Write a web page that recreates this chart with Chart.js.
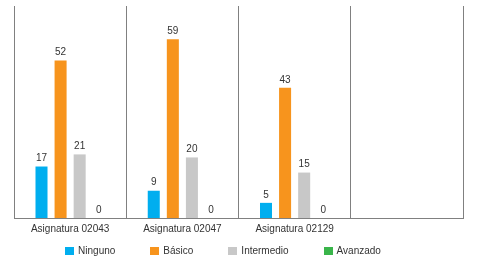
<!DOCTYPE html>
<html>
<head>
<meta charset="utf-8">
<script src="https://cdn.jsdelivr.net/npm/chart.js@4/dist/chart.umd.min.js"></script>
<style>
html,body{margin:0;padding:0;background:#fff;}
#wrap{width:478px;height:266px;position:relative;}
#legend{position:absolute;left:0;width:446px;top:244px;display:flex;justify-content:center;gap:35px;
  font:10px "Liberation Sans", Arial, sans-serif;color:#333;}
#legend .it{display:flex;align-items:center;white-space:nowrap;line-height:14px;}
#legend .sw{width:9px;height:8px;margin-right:4px;display:inline-block;}
</style>
</head>
<body>
<div id="wrap"><canvas id="c" width="478" height="266"></canvas><div id="legend"></div></div>
<script>
const categories = ["Asignatura 02043", "Asignatura 02047", "Asignatura 02129", ""];
const ninguno = [17, 9, 5, null];
const basico = [52, 59, 43, null];
const intermedio = [21, 20, 15, null];
const avanzado = [0, 0, 0, null];
const seriesNames = ["Ninguno", "Básico", "Intermedio", "Avanzado"];
const seriesColors = ["#00AEEF", "#F7941D", "#C8C8C8", "#39B54A"];
const yMax = 70;

const labelPlugin = {
  id: 'valueLabels',
  afterDatasetsDraw(chart) {
    const ctx = chart.ctx;
    ctx.save();
    ctx.font = '10px "Liberation Sans", Arial, sans-serif';
    ctx.fillStyle = '#333333';
    ctx.textAlign = 'center';
    ctx.textBaseline = 'bottom';
    chart.data.datasets.forEach((ds, i) => {
      const meta = chart.getDatasetMeta(i);
      meta.data.forEach((el, j) => {
        const v = ds.data[j];
        if (v === null || v === undefined) return;
        ctx.fillText(String(v), el.x, el.y - 3);
      });
    });
    ctx.restore();
  }
};

const allSeries = [ninguno, basico, intermedio, avanzado];
const chart = new Chart(document.getElementById('c'), {
  type: 'bar',
  data: {
    labels: categories,
    datasets: allSeries.map((d, i) => ({
      label: seriesNames[i],
      data: d,
      backgroundColor: seriesColors[i],
      borderWidth: 0,
      categoryPercentage: 0.68,
      barPercentage: 0.63
    }))
  },
  options: {
    responsive: false,
    animation: false,
    layout: { padding: { left: 14, right: 15, top: 6, bottom: 26 } },
    plugins: {
      legend: { display: false },
      tooltip: { enabled: false }
    },
    scales: {
      x: {
        grid: { display: true, offset: true, color: '#808080', lineWidth: 1, drawTicks: false },
        border: { display: true, color: '#808080', width: 1 },
        ticks: {
          color: '#333333',
          padding: 5,
          font: { family: '"Liberation Sans", Arial, sans-serif', size: 10 }
        }
      },
      y: {
        display: false,
        min: 0,
        max: yMax
      }
    }
  },
  plugins: [labelPlugin]
});

const leg = document.getElementById('legend');
chart.data.datasets.forEach(ds => {
  const it = document.createElement('span');
  it.className = 'it';
  const sw = document.createElement('span');
  sw.className = 'sw';
  sw.style.background = ds.backgroundColor;
  it.appendChild(sw);
  it.appendChild(document.createTextNode(ds.label));
  leg.appendChild(it);
});
</script>
</body>
</html>
